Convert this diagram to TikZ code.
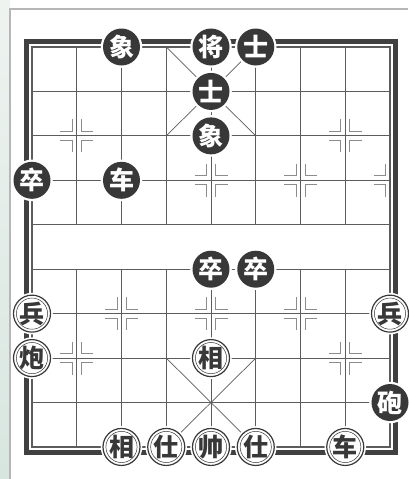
\documentclass[tikz,border=0pt]{standalone}
\usepackage{fontspec}
\newfontfamily\cjk{Noto Sans CJK SC}
\usetikzlibrary{positioning}

\definecolor{boardline}{HTML}{5C5C5C}
\definecolor{frameline}{HTML}{404040}
\definecolor{piecedark}{HTML}{383838}
\definecolor{markline}{HTML}{8C8C8C}
\definecolor{panelline}{HTML}{B6B6B6}
\definecolor{sidetop}{HTML}{EEF3F0}
\definecolor{sidebot}{HTML}{D8E6E0}

\begin{document}
\begin{tikzpicture}[
x=1pt,y=-1pt,
gridline/.style={draw=boardline,line width=0.9pt},
palace/.style={draw=boardline,line width=0.7pt},
posmark/.style={draw=markline,line width=0.9pt},
frame/.style={draw=frameline,line width=5pt},
piece/.style={
circle,
minimum size=37pt,
inner sep=0pt,
preaction={fill=white,draw=white,line width=4.5pt},
font=\cjk\bfseries\fontsize{25}{25}\selectfont
},
blackpiece/.style={piece,fill=piecedark,text=white},
redpiece/.style={
piece,
fill=white,
draw=piecedark,
line width=1.2pt,
text=piecedark,
path picture={\draw[piecedark,line width=0.5pt] (path picture bounding box.center) circle (15.6pt);}
}
]

\useasboundingbox (0,0) rectangle (408,479);

%---------------- Background ----------------%

\shade[top color=sidetop,bottom color=sidebot] (0,0) rectangle (10,479);
\draw[panelline,line width=1.5pt] (10,479) -- (10,9) -- (408,9);

\begin{scope}[shift={(32,47)},x=44.75pt,y=-44.44pt]

%---------------- Board ----------------%

\foreach \r in {0,...,9}
\draw[gridline] (0,\r) -- (8,\r);
\foreach \c in {1,...,7}{
\draw[gridline] (\c,0) -- (\c,4);
\draw[gridline] (\c,5) -- (\c,9);
}
\draw[gridline,line width=1.4pt] (0,0) rectangle (8,9);

\draw[palace] (3,0) -- (5,2) (5,0) -- (3,2);
\draw[palace] (3,7) -- (5,9) (5,7) -- (3,9);

% position marks
\foreach \i/\j in {1/2,7/2,2/3,4/3,6/3,2/6,4/6,6/6,1/7,7/7}
\foreach \sx in {-1,1}
\foreach \sy in {-1,1}
\draw[posmark,shift={(\i,\j)}] (\sx*4.5pt,\sy*16.5pt) -- (\sx*4.5pt,\sy*4.5pt) -- (\sx*16.5pt,\sy*4.5pt);

\foreach \j in {3,6}
\foreach \sy in {-1,1}{
\draw[posmark,shift={(0,\j)}] (4.5pt,\sy*16.5pt) -- (4.5pt,\sy*4.5pt) -- (16.5pt,\sy*4.5pt);
\draw[posmark,shift={(8,\j)}] (-4.5pt,\sy*16.5pt) -- (-4.5pt,\sy*4.5pt) -- (-16.5pt,\sy*4.5pt);
}

\draw[frame] ([shift={(-5.5pt,5.5pt)}]0,0) rectangle ([shift={(5.5pt,-5.5pt)}]8,9);

%---------------- Black ----------------%

\node[blackpiece] (belephA) at (2,0) {象};
\node[blackpiece] (bgeneral) at (4,0) {将};
\node[blackpiece] (badvA) at (5,0) {士};
\node[blackpiece] (badvB) at (4,1) {士};
\node[blackpiece] (belephB) at (4,2) {象};
\node[blackpiece] (bpawnA) at (0,3) {卒};
\node[blackpiece] (bchariot) at (2,3) {车};
\node[blackpiece] (bpawnB) at (4,5) {卒};
\node[blackpiece] (bpawnC) at (5,5) {卒};
\node[blackpiece] (bcannon) at (8,8) {砲};

%---------------- Red ----------------%

\node[redpiece] (rpawnA) at (0,6) {兵};
\node[redpiece] (rpawnB) at (8,6) {兵};
\node[redpiece] (rcannon) at (0,7) {炮};
\node[redpiece] (relephA) at (4,7) {相};
\node[redpiece] (relephB) at (2,9) {相};
\node[redpiece] (radvA) at (3,9) {仕};
\node[redpiece] (rgeneral) at (4,9) {帅};
\node[redpiece] (radvB) at (5,9) {仕};
\node[redpiece] (rchariot) at (7,9) {车};

\end{scope}

\end{tikzpicture}
\end{document}
